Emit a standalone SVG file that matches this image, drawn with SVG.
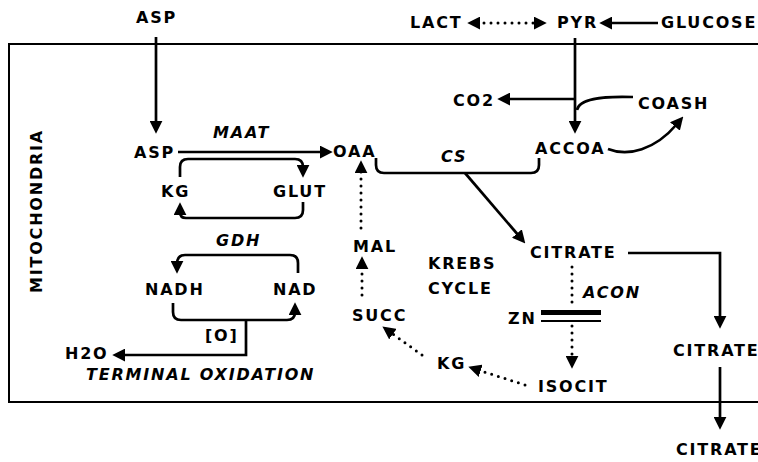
<svg xmlns="http://www.w3.org/2000/svg" width="758" height="462" viewBox="0 0 758 462">
<style>
text{font-family:"DejaVu Sans","Liberation Sans",Arial,sans-serif;font-weight:bold;font-size:16px;letter-spacing:1.8px;fill:#000}
.it{font-style:italic}
.ln{fill:none;stroke:#000;stroke-width:2.7}
.dt{fill:none;stroke:#000;stroke-width:3;stroke-linecap:round;stroke-dasharray:0 7}
.box{fill:none;stroke:#000;stroke-width:2}
</style>
<defs>
<marker id="ah" markerUnits="userSpaceOnUse" markerWidth="13" markerHeight="13" viewBox="0 0 12 12" refX="3" refY="6" orient="auto-start-reverse">
<path d="M0,0 L12,6 L0,12 z" fill="#000"/>
</marker>
</defs>
<path class="box" d="M760,44 H9 V402 H760"/>
<g id="connectors">
<path class="ln" d="M156,37 V124" marker-end="url(#ah)"/>
<path class="ln" d="M575,38 V124" marker-end="url(#ah)"/>
<path class="ln" d="M575,99 H507" marker-end="url(#ah)"/>
<path class="ln" d="M633,97 C600,96 579,99 577,110"/>
<path class="ln" d="M608,149 C628,157 655,150 677,124" marker-end="url(#ah)"/>
<path class="ln" d="M658,23 H609" marker-end="url(#ah)"/>
<path class="dt" d="M477,23 H537" marker-start="url(#ah)" marker-end="url(#ah)"/>
<path class="ln" d="M178,152 H323" marker-end="url(#ah)"/>
<path class="ln" d="M180,177 V167 Q180,159 188,159 H295 Q303,159 303,167 V168" marker-end="url(#ah)"/>
<path class="ln" d="M303,202 V210 Q303,218 295,218 H186 Q180,218 180,212" marker-end="url(#ah)"/>
<path class="ln" d="M298,273 V263 Q298,255 290,255 H185 Q177,255 177,264" marker-end="url(#ah)"/>
<path class="ln" d="M173,303 V312 Q173,320 181,320 H287 Q295,320 295,312" marker-end="url(#ah)"/>
<path class="ln" d="M246,320 V355 H122" marker-end="url(#ah)"/>
<path class="ln" d="M376,158 V165 Q376,173 384,173 H531 Q539,173 539,165 V158"/>
<path class="ln" d="M465,173 L519,236" marker-end="url(#ah)"/>
<path class="dt" d="M361,228 V170" marker-end="url(#ah)"/>
<path class="dt" d="M362,295 V266" marker-end="url(#ah)"/>
<path class="dt" d="M572,267 V308"/>
<rect x="541" y="310" width="60" height="5" fill="#000"/>
<path d="M541,321 H601" stroke="#000" stroke-width="2"/>
<path class="dt" d="M572,326 V359" marker-end="url(#ah)"/>
<path class="dt" d="M525,385 L477.6,369.8" marker-end="url(#ah)"/>
<path class="dt" d="M422,355 L390.3,332.2" marker-end="url(#ah)"/>
<path class="ln" d="M628,253 H720 V319" marker-end="url(#ah)"/>
<path class="ln" d="M720,367 V420" marker-end="url(#ah)"/>
</g>
<g id="n-asp-out"><text x="136" y="23">ASP</text></g>
<g id="n-lact"><text x="410" y="28">LACT</text></g>
<g id="n-pyr"><text x="557" y="28">PYR</text></g>
<g id="n-glucose"><text x="661" y="28">GLUCOSE</text></g>
<g id="n-co2"><text x="453" y="106">CO2</text></g>
<g id="n-coash"><text x="638" y="109">COASH</text></g>
<g id="n-asp-in"><text x="134" y="158">ASP</text></g>
<g id="l-maat"><text class="it" x="213" y="138">MAAT</text></g>
<g id="n-oaa"><text x="333" y="157">OAA</text></g>
<g id="l-cs"><text class="it" x="441" y="162">CS</text></g>
<g id="n-accoa"><text x="535" y="154">ACCOA</text></g>
<g id="n-kg1"><text x="161" y="197">KG</text></g>
<g id="n-glut"><text x="273" y="197">GLUT</text></g>
<g id="l-gdh"><text class="it" x="216" y="246">GDH</text></g>
<g id="n-mal"><text x="353" y="252">MAL</text></g>
<g id="n-citrate1"><text x="530" y="258">CITRATE</text></g>
<g id="l-krebs"><text x="428" y="269">KREBS</text><text x="428" y="294">CYCLE</text></g>
<g id="n-nadh"><text x="145" y="295">NADH</text></g>
<g id="n-nad"><text x="273" y="295">NAD</text></g>
<g id="l-acon"><text class="it" x="583" y="298">ACON</text></g>
<g id="n-succ"><text x="352" y="321">SUCC</text></g>
<g id="n-zn"><text x="508" y="324">ZN</text></g>
<g id="l-o"><text x="205" y="341">[O]</text></g>
<g id="n-citrate2"><text x="673" y="356">CITRATE</text></g>
<g id="n-h2o"><text x="65" y="359">H2O</text></g>
<g id="n-kg2"><text x="437" y="369">KG</text></g>
<g id="l-term"><text class="it" x="86" y="380">TERMINAL OXIDATION</text></g>
<g id="n-isocit"><text x="538" y="392">ISOCIT</text></g>
<g id="n-citrate3"><text x="676" y="455">CITRATE</text></g>
<g id="l-mito"><text transform="translate(42,293) rotate(-90)">MITOCHONDRIA</text></g>
</svg>
